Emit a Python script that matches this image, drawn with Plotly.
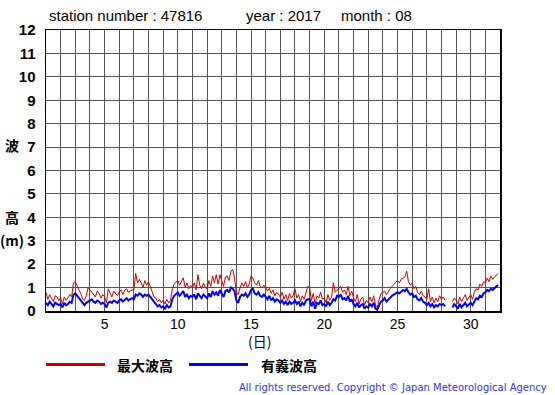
import plotly.graph_objects as go

# ---- data: 3-hourly wave heights (m), August 2017, station 47816 ----
start_day = 1
step_hours = 3

hmax = [
    0.8, 0.5, 0.7, 0.55, 0.4, 0.65, 0.6, 0.45,      # 1
    0.55, 0.3, 0.6, 0.45, 0.55, 0.7, 0.6, 1.2,      # 2
    1.25, 1.05, 0.9, 0.75, 0.5, 0.45, 0.65, 1.0,    # 3
    0.9, 0.85, 0.7, 0.6, 0.85, 0.75, 0.55, 0.7,     # 4
    0.6, 0.35, 0.95, 0.75, 0.6, 0.85, 0.75, 0.65,   # 5
    0.8, 0.9, 0.7, 0.9, 0.95, 0.8, 0.85, 0.9,       # 6
    0.9, 1.6, 1.2, 1.35, 1.2, 1.0, 1.3, 1.1,        # 7
    1.25, 1.0, 0.75, 0.6, 0.55, 0.4, 0.5, 0.35,     # 8
    0.45, 0.3, 0.5, 0.35, 0.45, 0.95, 1.15, 1.25,   # 9
    1.3, 1.1, 1.25, 1.42, 1.0, 1.2, 0.95, 1.1,      # 10
    1.0, 1.2, 0.9, 1.55, 1.1, 0.95, 1.2, 1.0,       # 11
    0.95, 1.3, 1.05, 1.5, 1.2, 1.55, 1.15, 1.55,    # 12
    1.3, 1.05, 1.45, 1.5, 1.3, 1.7, 1.78, 1.4,      # 13
    0.8, 0.7, 1.0, 1.2, 1.05, 1.25, 1.0, 1.15,      # 14
    1.5, 1.4, 1.2, 1.1, 1.3, 1.05, 1.0, 1.1,        # 15
    1.0, 0.85, 0.97, 0.75, 0.9, 0.65, 0.8, 0.7,     # 16
    0.6, 0.8, 0.5, 0.7, 0.45, 0.75, 0.55, 0.65,     # 17
    0.95, 0.55, 0.7, 0.4, 0.65, 0.5, 0.8, 1.05,     # 18
    1.0, 0.45, 0.75, 0.3, 0.65, 0.55, 0.8, 0.5,     # 19
    0.55, 0.35, 0.7, 0.45, 0.6, 1.2, 0.8, 0.9,      # 20
    0.95, 1.05, 0.8, 0.9, 0.7, 1.05, 0.65, 0.85,    # 21
    0.55, 0.4, 0.7, 0.3, 0.5, 0.6, 0.25, 0.45,      # 22
    0.35, 0.6, 0.4, 0.65, 0.25, 0.15, 0.5, 0.75,    # 23
    0.8, 0.85, 0.7, 0.85, 0.95, 1.05, 1.15, 1.2,    # 24
    1.3, 1.2, 1.35, 1.4, 1.45, 1.7, 1.25, 1.1,      # 25
    1.2, 0.95, 1.05, 0.8, 0.7, 0.85, 0.65, 0.6,     # 26
    0.5, 0.95, 0.4, 0.6, 0.35, 0.55, 0.4, 0.65,     # 27
    0.5, 0.6, 0.45, None, None, None, 0.4, 0.55,    # 28
    0.45, 0.3, 0.6, 0.4, 0.55, 0.7, 0.45, 0.6,      # 29
    0.7, 0.5, 0.8, 0.95, 0.9, 1.15, 1.05, 1.25,     # 30
    1.2, 1.4, 1.25, 1.5, 1.35, 1.45, 1.55, 1.6,     # 31
]

hsig = [
    0.35, 0.25, 0.4, 0.3, 0.2, 0.35, 0.3, 0.25,     # 1
    0.3, 0.15, 0.35, 0.25, 0.3, 0.4, 0.35, 0.7,     # 2
    0.75, 0.65, 0.55, 0.45, 0.3, 0.25, 0.35, 0.4,   # 3
    0.45, 0.5, 0.4, 0.35, 0.45, 0.4, 0.3, 0.35,     # 4
    0.3, 0.15, 0.35, 0.4, 0.35, 0.45, 0.4, 0.35,    # 5
    0.45, 0.5, 0.4, 0.5, 0.55, 0.45, 0.5, 0.55,     # 6
    0.5, 0.7, 0.65, 0.75, 0.7, 0.6, 0.7, 0.65,      # 7
    0.7, 0.6, 0.45, 0.35, 0.3, 0.2, 0.25, 0.15,     # 8
    0.2, 0.1, 0.25, 0.15, 0.2, 0.5, 0.65, 0.75,     # 9
    0.8, 0.65, 0.75, 0.85, 0.6, 0.7, 0.55, 0.65,    # 10
    0.6, 0.7, 0.5, 0.75, 0.65, 0.55, 0.7, 0.6,      # 11
    0.55, 0.75, 0.6, 0.85, 0.7, 0.8, 0.65, 0.9,     # 12
    0.75, 0.6, 0.85, 0.9, 0.8, 1.0, 0.95, 0.85,     # 13
    0.45, 0.35, 0.6, 0.7, 0.65, 0.75, 0.6, 0.7,     # 14
    0.9, 0.95, 0.75, 0.7, 0.8, 0.65, 0.6, 0.7,      # 15
    0.6, 0.5, 0.65, 0.45, 0.55, 0.4, 0.5, 0.45,     # 16
    0.35, 0.45, 0.3, 0.4, 0.25, 0.4, 0.3, 0.35,     # 17
    0.45, 0.3, 0.4, 0.2, 0.35, 0.25, 0.45, 0.5,     # 18
    0.5, 0.2, 0.4, 0.1, 0.35, 0.3, 0.45, 0.25,      # 19
    0.3, 0.2, 0.4, 0.25, 0.35, 0.5, 0.45, 0.65,     # 20
    0.6, 0.7, 0.5, 0.55, 0.45, 0.65, 0.4, 0.5,      # 21
    0.3, 0.2, 0.35, 0.15, 0.25, 0.3, 0.1, 0.2,      # 22
    0.15, 0.3, 0.2, 0.35, 0.1, 0.05, 0.25, 0.4,     # 23
    0.45, 0.55, 0.4, 0.5, 0.55, 0.65, 0.7, 0.75,    # 24
    0.8, 0.75, 0.85, 0.9, 0.85, 0.95, 0.8, 0.7,     # 25
    0.75, 0.6, 0.65, 0.5, 0.45, 0.55, 0.4, 0.35,    # 26
    0.25, 0.35, 0.2, 0.3, 0.15, 0.25, 0.2, 0.3,     # 27
    0.25, 0.3, 0.2, None, None, None, 0.15, 0.3,    # 28
    0.2, 0.1, 0.3, 0.15, 0.25, 0.35, 0.2, 0.3,      # 29
    0.35, 0.25, 0.4, 0.55, 0.5, 0.65, 0.6, 0.75,    # 30
    0.8, 0.9, 0.85, 0.95, 0.9, 1.0, 1.05, 1.1,      # 31
]

x_ticks = list(range(1, 33))
x_ticklabels = [str(d) if d % 5 == 0 else "" for d in x_ticks]
y_ticks = list(range(0, 13))

title_parts = ["station number : 47816", "year : 2017", "month : 08"]
legend_names = ["最大波高", "有義波高"]
colors = ["#cc0000", "#0000ff"]

xs = [start_day + i * step_hours / 24 for i in range(len(hmax))]

fig = go.Figure()
fig.add_trace(go.Scatter(x=xs, y=hmax, mode="lines", line=dict(color=colors[0], width=1),
                         connectgaps=False, name=legend_names[0]))
fig.add_trace(go.Scatter(x=xs, y=hsig, mode="lines", line=dict(color=colors[1], width=2),
                         connectgaps=False, name=legend_names[1]))

W, H = 555, 395
L, R, T, B = 46, 55, 30, 84
PW, PH = W - L - R, H - T - B

fig.update_layout(
    width=W, height=H,
    margin=dict(l=L, r=R, t=T, b=B, autoexpand=False),
    paper_bgcolor="white", plot_bgcolor="white",
    showlegend=False,
    font=dict(family="Liberation Sans, Arial, sans-serif", color="black"),
    xaxis=dict(range=[1, 32], tickmode="array", tickvals=x_ticks, ticktext=x_ticklabels,
               showgrid=True, gridcolor="#555555", gridwidth=1,
               showline=True, linecolor="black", linewidth=1.5, mirror=True,
               ticks="", tickfont=dict(size=14, family="Liberation Sans, Arial"),
               zeroline=False, fixedrange=True),
    yaxis=dict(range=[0, 12], tickmode="array", tickvals=y_ticks,
               ticktext=[f"<b>{v}</b>" for v in y_ticks],
               showgrid=True, gridcolor="#555555", gridwidth=1,
               showline=True, linecolor="black", linewidth=1.5, mirror=True,
               ticks="", ticklabelstandoff=6,
               tickfont=dict(size=15, family="Liberation Sans, Arial"),
               zeroline=False, fixedrange=True),
)

# paper coords are relative to the plot area
def px_x(p):
    return (p - L) / PW

def px_y(p):
    return (H - B - p) / PH

ann = []
for txt, xp in zip(title_parts, [47, 244, 339]):
    ann.append(dict(text=txt, x=px_x(xp), y=px_y(15), xref="paper", yref="paper",
                    xanchor="left", yanchor="middle", showarrow=False,
                    font=dict(size=15, family="Liberation Sans, Arial", color="black")))
cjk = "Noto Sans CJK JP"
for txt, yp in [("<b>波</b>", 145), ("<b>高</b>", 217), ("<b>(m)</b>", 240)]:
    ann.append(dict(text=txt, x=px_x(12), y=px_y(yp), xref="paper", yref="paper",
                    xanchor="center", yanchor="middle", showarrow=False,
                    font=dict(size=14, family=cjk, color="black")))
ann.append(dict(text="(日)", x=px_x(259), y=px_y(341), xref="paper", yref="paper",
                xanchor="center", yanchor="middle", showarrow=False,
                font=dict(size=14, family=cjk, color="black")))
for txt, xp in zip(legend_names, [115, 259]):
    ann.append(dict(text=f"<b>{txt}</b>", x=px_x(xp), y=px_y(365), xref="paper", yref="paper",
                    xanchor="left", yanchor="middle", showarrow=False,
                    font=dict(size=14, family=cjk, color="black")))
ann.append(dict(text="All rights reserved. Copyright © Japan Meteorological Agency",
                x=px_x(549), y=px_y(387), xref="paper", yref="paper",
                xanchor="right", yanchor="middle", showarrow=False,
                font=dict(size=10, family="DejaVu Sans", color="#3333ee")))
fig.update_layout(annotations=ann)

shapes = []
for col, (x0, x1) in zip(colors, [(46, 105), (189, 248)]):
    shapes.append(dict(type="line", xref="paper", yref="paper",
                       x0=px_x(x0), x1=px_x(x1), y0=px_y(364.5), y1=px_y(364.5),
                       line=dict(color=col, width=3)))
fig.update_layout(shapes=shapes)

fig.write_html("out.html",
               config={"displayModeBar": False, "staticPlot": True},
               post_script="document.body.style.margin='0';document.body.style.overflow='hidden';")
